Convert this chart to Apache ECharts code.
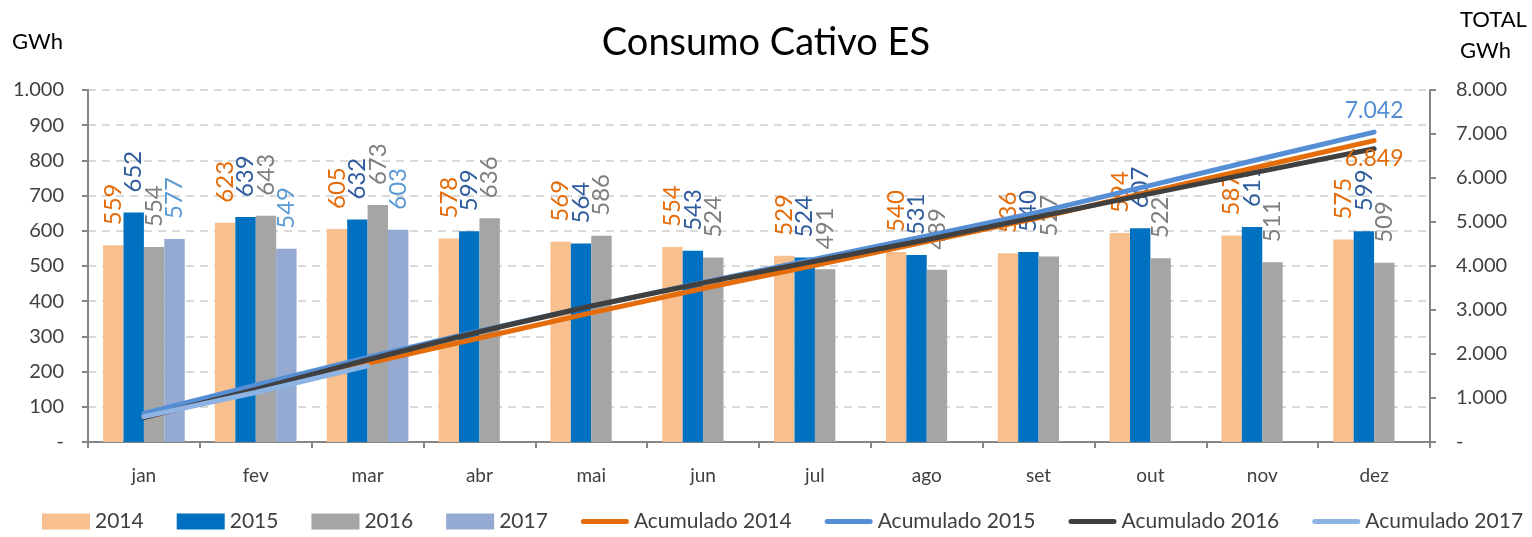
<!DOCTYPE html>
<html>
<head>
<meta charset="utf-8">
<script src="https://cdn.jsdelivr.net/npm/echarts@6/dist/echarts.min.js"></script>
<style>
  html, body { margin: 0; padding: 0; background: #fff; }
  #chart { width: 1532px; height: 537px; }
</style>
</head>
<body>
<div id="chart"></div>
<script>
// Months
const months = ['jan', 'fev', 'mar', 'abr', 'mai', 'jun', 'jul', 'ago', 'set', 'out', 'nov', 'dez'];

// Monthly consumption (GWh)
const v2014 = [559, 623, 605, 578, 569, 554, 529, 540, 536, 594, 587, 575];
const v2015 = [652, 639, 632, 599, 564, 543, 524, 531, 540, 607, 611, 599];
const v2016 = [554, 643, 673, 636, 586, 524, 491, 489, 527, 522, 511, 509];
const v2017 = [577, 549, 603, null, null, null, null, null, null, null, null, null];

// Cumulative totals (GWh)
const acc2014 = [559, 1182, 1787, 2365, 2934, 3488, 4017, 4557, 5093, 5687, 6274, 6849];
const acc2015 = [652, 1291, 1923, 2522, 3086, 3629, 4153, 4684, 5224, 5831, 6442, 7042];
const acc2016 = [554, 1197, 1870, 2506, 3092, 3616, 4107, 4596, 5123, 5645, 6156, 6665];
const acc2017 = [577, 1126, 1729];

const FONT = 'Lato';
// thin rounded bar used as the legend marker of the cumulative lines
const LINE_ICON = 'path://M2.5,0 H45.5 A2.5,2.5 0 0 1 45.5,5 H2.5 A2.5,2.5 0 0 1 2.5,0 Z';

function fmt(v) {
  if (v === 0) return '-';
  return String(Math.round(v)).replace(/\B(?=(\d{3})+(?!\d))/g, '.');
}

function barSeries(name, data, color, labelColor) {
  return {
    name: name,
    type: 'bar',
    data: data,
    barGap: '0%',
    barCategoryGap: '27%',
    itemStyle: { color: color },
    label: {
      show: true,
      position: 'top',
      rotate: 90,
      align: 'left',
      verticalAlign: 'middle',
      distance: 20,
      color: labelColor,
      fontFamily: FONT,
      fontSize: 24,
      formatter: p => fmt(p.value)
    },
    z: 2
  };
}

function lineSeries(name, data, color, endLabelPos) {
  const last = data.length - 1;
  return {
    name: name,
    type: 'line',
    yAxisIndex: 1,
    symbol: 'circle',
    symbolSize: 0,
    showSymbol: true,
    label: { show: false },
    data: data.map((v, i) => {
      if (i === last && endLabelPos) {
        return {
          value: v,
          label: {
            show: true,
            position: endLabelPos,
            distance: endLabelPos === 'top' ? 10 : 6,
            color: color,
            fontFamily: FONT,
            fontSize: 23,
            formatter: p => fmt(p.value)
          }
        };
      }
      return v;
    }),
    lineStyle: { color: color, width: 5, cap: 'round' },
    itemStyle: { color: color },
    emphasis: { disabled: true },
    z: 3
  };
}

const chart = echarts.init(document.getElementById('chart'), null, { renderer: 'canvas' });

chart.setOption({
  animation: false,
  backgroundColor: '#ffffff',
  textStyle: { fontFamily: FONT },
  title: {
    text: 'Consumo Cativo ES',
    left: 'center',
    top: 19,
    textStyle: { fontFamily: FONT, fontSize: 38, fontWeight: 'normal', color: '#000' }
  },
  graphic: [
    { type: 'text', left: 12, top: 31, style: { text: 'GWh', font: '22px ' + FONT, fill: '#000' } },
    { type: 'text', left: 1460, top: 4, style: { text: 'TOTAL\nGWh', font: '22px ' + FONT, fill: '#000', align: 'right', lineHeight: 31 } }
  ],
  legend: {
    top: 511,
    left: 42,
    width: 1490,
    padding: 0,
    itemWidth: 48,
    itemHeight: 16,
    itemGap: 33,
    textStyle: { fontFamily: FONT, fontSize: 21, color: '#404040' },
    data: [
      { name: '2014', icon: 'rect' },
      { name: '2015', icon: 'rect' },
      { name: '2016', icon: 'rect' },
      { name: '2017', icon: 'rect' },
      { name: 'Acumulado 2014', icon: LINE_ICON },
      { name: 'Acumulado 2015', icon: LINE_ICON },
      { name: 'Acumulado 2016', icon: LINE_ICON },
      { name: 'Acumulado 2017', icon: LINE_ICON }
    ]
  },
  grid: { left: 88, right: 102, top: 90, bottom: 95 },
  xAxis: {
    type: 'category',
    data: months,
    axisLine: { lineStyle: { color: '#868686', width: 2 } },
    axisTick: { show: true, length: 6, lineStyle: { color: '#868686', width: 2 } },
    axisLabel: { color: '#404040', fontFamily: FONT, fontSize: 19, margin: 24 }
  },
  yAxis: [
    {
      type: 'value',
      min: 0, max: 1000, interval: 100,
      axisLine: { show: true, lineStyle: { color: '#868686', width: 2 } },
      axisTick: { show: true, length: 6, lineStyle: { color: '#868686', width: 2 } },
      axisLabel: { color: '#404040', fontFamily: FONT, fontSize: 20, margin: 24, formatter: fmt },
      splitLine: { lineStyle: { color: '#d9d9d9', type: [8, 6], width: 2 } }
    },
    {
      type: 'value',
      min: 0, max: 8000, interval: 1000,
      axisLine: { show: true, lineStyle: { color: '#868686', width: 2 } },
      axisTick: { show: true, length: 6, lineStyle: { color: '#868686', width: 2 } },
      axisLabel: { color: '#404040', fontFamily: FONT, fontSize: 20, margin: 26, formatter: fmt },
      splitLine: { show: false }
    }
  ],
  series: [
    barSeries('2014', v2014, '#F8BF8F', '#E46C0A'),
    barSeries('2015', v2015, '#0070C0', '#2F5C9E'),
    barSeries('2016', v2016, '#A5A5A5', '#7F7F7F'),
    barSeries('2017', v2017, '#95AAD2', '#5B9BD5'),
    lineSeries('Acumulado 2014', acc2014, '#E46C0A', 'bottom'),
    lineSeries('Acumulado 2015', acc2015, '#558ED5', 'top'),
    lineSeries('Acumulado 2016', acc2016, '#404040', null),
    lineSeries('Acumulado 2017', acc2017, '#8DB4E2', null)
  ]
});
</script>
</body>
</html>
